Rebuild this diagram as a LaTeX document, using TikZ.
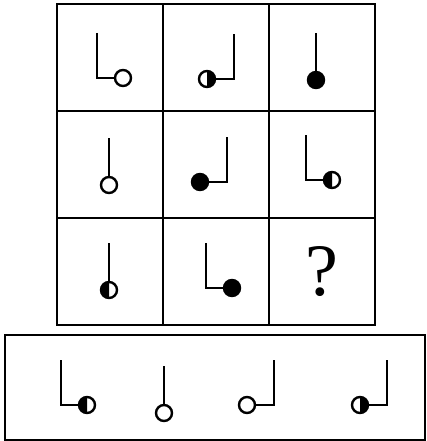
\documentclass[tikz,border=0pt]{standalone}
\usepackage{fontspec}
\setmainfont{Liberation Serif}
\usetikzlibrary{positioning}
\tikzset{
	pline/.style={line width=2.4pt, draw=black},
	cellbox/.style={pline, minimum width=106pt, minimum height=107pt,
		inner sep=0pt, outer sep=0pt},
	qmark/.style={font=\fontsize{74}{74}\selectfont, inner sep=0pt},
	ball open/.pic={\draw[pline, fill=white] (0,0) circle (8);},
	ball full/.pic={\draw[pline, fill=black] (0,0) circle (8);},
	ball left/.pic={\fill (0,-8) arc (-90:-270:8) -- cycle;
		\draw[pline] (0,0) circle (8);},
	ball right/.pic={\fill (0,-8) arc (-90:90:8) -- cycle;
		\draw[pline] (0,0) circle (8);},
	lsym/.pic={\draw[pline] (-26,-45) -- (-26,0) -- (-8,0); \pic {ball #1};},
	jsym/.pic={\draw[pline] (8,0) -- (27,0) -- (27,-45); \pic {ball #1};},
	isym/.pic={\draw[pline] (0,-8) -- (0,-47); \pic {ball #1};}
}

\begin{document}
\begin{tikzpicture}[x=1pt, y=-1pt, node distance=0pt]
	\useasboundingbox (0,0) rectangle (426,441);
	\node[cellbox] (c11) at (110,57.5) {};
	\node[cellbox, right=of c11] (c12) {};
	\node[cellbox, right=of c12] (c13) {};
	\node[cellbox, below=of c11] (c21) {};
	\node[cellbox, right=of c21] (c22) {};
	\node[cellbox, right=of c22] (c23) {};
	\node[cellbox, below=of c21] (c31) {};
	\node[cellbox, right=of c31] (c32) {};
	\node[cellbox, right=of c32] (c33) {};
	\node[qmark] (q) at (c33) {?};
	\node[cellbox, minimum width=420pt, minimum height=105pt] (ans) at (215,387.5) {};

	\pic at (123,78) {lsym=open};
	\pic at (207,79) {jsym=right};
	\pic at (316,80) {isym=full};
	\pic at (109,185) {isym=open};
	\pic at (200,182) {jsym=full};
	\pic at (332,180) {lsym=left};
	\pic at (109,290) {isym=left};
	\pic at (232,288) {lsym=full};

	\pic at (87,405) {lsym=left};
	\pic at (164,413) {isym=open};
	\pic at (247,405) {jsym=open};
	\pic at (360,405) {jsym=right};
\end{tikzpicture}
\end{document}
